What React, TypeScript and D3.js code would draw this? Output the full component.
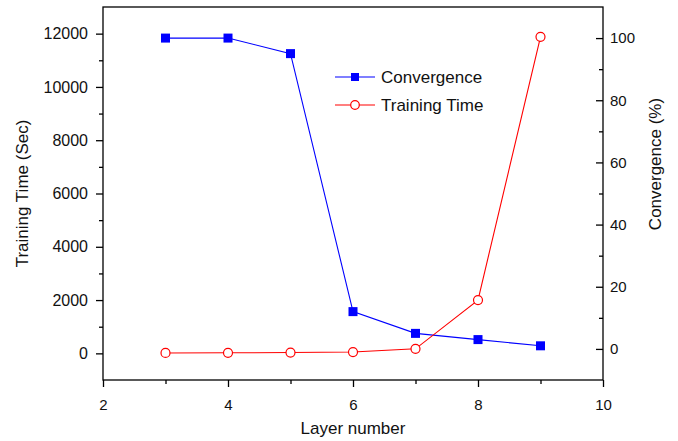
import React, { useEffect, useRef } from 'react';
import * as d3 from 'd3';

const layers = [3, 4, 5, 6, 7, 8, 9];
const convergence = [100, 100, 95, 12, 5, 3, 1];
const trainingTime = [15, 20, 30, 50, 170, 2000, 11880];
const leftTicks = [0, 2000, 4000, 6000, 8000, 10000, 12000];
const rightTicks = [0, 20, 40, 60, 80, 100];
const xTicks = [2, 4, 6, 8, 10];
const legendItems = ['Convergence', 'Training Time'];

const width = 678;
const height = 441;
const font = 'Liberation Sans, Arial, sans-serif';

function DualChart() {
    const ref = useRef<SVGSVGElement>(null);

    const margin = { top: 7, right: 75, bottom: 61, left: 103 };

    useEffect(() => {
        drawChart();
    }, []);

    function drawChart() {
        const svg = d3.select(ref.current);
        svg.selectAll('*').remove();

        const x = d3.scaleLinear().domain([2, 10]).range([margin.left, width - margin.right]);
        const yLeft = d3.scaleLinear().domain([-1000, 13000]).range([height - margin.bottom, margin.top]);
        const yRight = d3.scaleLinear().domain([-10, 110]).range([height - margin.bottom, margin.top]);

        const x0 = margin.left;
        const x1 = width - margin.right;
        const y0 = height - margin.bottom;
        const y1 = margin.top;

        // frame
        svg.append('rect')
            .attr('x', x0).attr('y', y1)
            .attr('width', x1 - x0).attr('height', y0 - y1)
            .attr('fill', 'none').attr('stroke', '#000').attr('stroke-width', 1.3);

        // bottom axis
        const xAxis = svg.append('g').attr('transform', `translate(0,${y0})`);
        xAxis.call(d3.axisBottom(x).tickValues(d3.range(3, 10, 2)).tickSize(4).tickFormat(() => ''));
        xAxis.append('g').call(d3.axisBottom(x).tickValues(xTicks).tickSize(7).tickPadding(12).tickFormat(d3.format('d')));
        xAxis.selectAll('.domain').remove();

        // left axis
        const lAxis = svg.append('g').attr('transform', `translate(${x0},0)`);
        lAxis.call(d3.axisLeft(yLeft).tickValues(d3.range(1000, 13000, 2000)).tickSize(4).tickFormat(() => ''));
        lAxis.append('g').call(d3.axisLeft(yLeft).tickValues(leftTicks).tickSize(7).tickPadding(8).tickFormat(d3.format('d')));
        lAxis.selectAll('.domain').remove();

        // right axis (ticks inward)
        const rAxis = svg.append('g').attr('transform', `translate(${x1},0)`);
        rAxis.call(d3.axisLeft(yRight).tickValues(d3.range(10, 110, 20)).tickSize(4).tickFormat(() => ''));
        rAxis.append('g').call(d3.axisLeft(yRight).tickValues(rightTicks).tickSize(7).tickFormat(() => ''));
        rAxis.selectAll('.domain').remove();
        rAxis.selectAll('.label')
            .data(rightTicks)
            .enter()
            .append('text')
            .attr('x', 7)
            .attr('y', (d) => yRight(d))
            .attr('dy', '0.35em')
            .attr('text-anchor', 'start')
            .text((d) => d);

        svg.selectAll('.tick line').attr('stroke', '#000').attr('stroke-width', 1.3);
        svg.selectAll('text').attr('font-family', font).attr('font-size', 15).attr('fill', '#111');
        lAxis.selectAll('text').attr('font-size', 16);

        // titles
        svg.append('text')
            .attr('x', (x0 + x1) / 2).attr('y', 434)
            .attr('text-anchor', 'middle')
            .text('Layer number');
        svg.append('text')
            .attr('transform', `translate(28,${(y0 + y1) / 2}) rotate(-90)`)
            .attr('text-anchor', 'middle')
            .text('Training Time (Sec)');
        svg.append('text')
            .attr('transform', `translate(661,164) rotate(-90)`)
            .attr('text-anchor', 'middle')
            .text('Convergence (%)');
        svg.selectAll('text').filter(function () { return !d3.select(this).attr('font-size'); })
            .attr('font-family', font).attr('font-size', 17).attr('fill', '#111');

        const convData = layers.map((l, i) => [l, convergence[i]] as [number, number]);
        const timeData = layers.map((l, i) => [l, trainingTime[i]] as [number, number]);

        const convLine = d3.line<[number, number]>().x((d) => x(d[0])).y((d) => yRight(d[1]));
        const timeLine = d3.line<[number, number]>().x((d) => x(d[0])).y((d) => yLeft(d[1]));

        svg.append('path').attr('d', convLine(convData)).attr('fill', 'none').attr('stroke', '#0000ff').attr('stroke-width', 1.1);
        svg.append('path').attr('d', timeLine(timeData)).attr('fill', 'none').attr('stroke', '#ff0000').attr('stroke-width', 1.1);

        svg.selectAll('.sq')
            .data(convData)
            .enter()
            .append('rect')
            .attr('x', (d) => x(d[0]) - 4.5)
            .attr('y', (d) => yRight(d[1]) - 4.5)
            .attr('width', 9).attr('height', 9)
            .attr('fill', '#0000ff');

        svg.selectAll('.circ')
            .data(timeData)
            .enter()
            .append('circle')
            .attr('cx', (d) => x(d[0]))
            .attr('cy', (d) => yLeft(d[1]))
            .attr('r', 4.5)
            .attr('fill', '#fff')
            .attr('stroke', '#ff0000')
            .attr('stroke-width', 1.2);

        // legend
        const legend = svg.append('g').attr('transform', 'translate(335,77)');
        legendItems.forEach((name, i) => {
            const g = legend.append('g').attr('transform', `translate(0,${i * 28})`);
            const color = i === 0 ? '#0000ff' : '#ff0000';
            g.append('line').attr('x1', 0).attr('x2', 40).attr('stroke', color).attr('stroke-width', 1.1);
            if (i === 0) {
                g.append('rect').attr('x', 16).attr('y', -4).attr('width', 8).attr('height', 8).attr('fill', color);
            } else {
                g.append('circle').attr('cx', 20).attr('r', 4.3).attr('fill', '#fff').attr('stroke', color).attr('stroke-width', 1.2);
            }
            g.append('text')
                .attr('x', 46).attr('dy', '0.35em')
                .attr('font-family', font).attr('font-size', 17).attr('fill', '#111')
                .text(name);
        });
    }

    return <svg ref={ref} width={width} height={height} style={{ position: 'absolute', left: 0, top: 0, background: '#fff' }}></svg>;
}

export default function App() {
    return <DualChart />;
}
